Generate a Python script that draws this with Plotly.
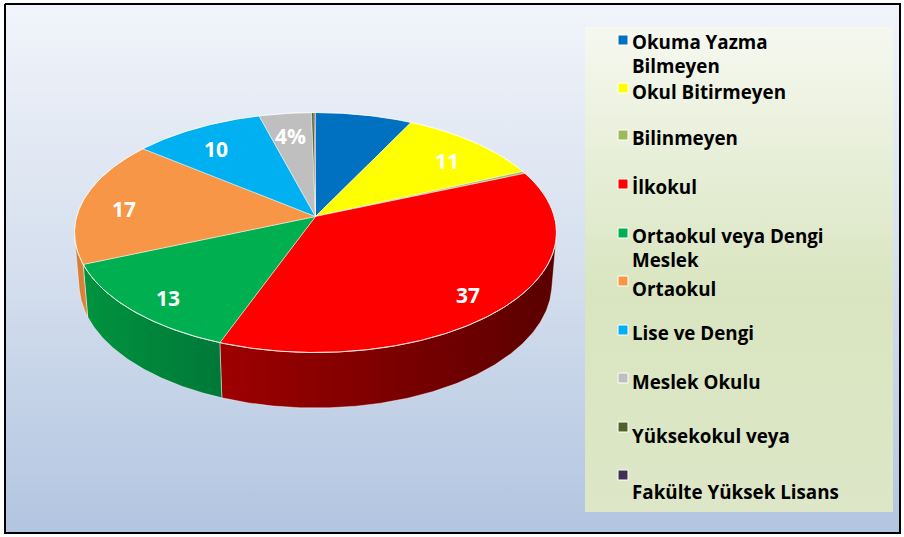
import math
import plotly.graph_objects as go

# Education level distribution (percent); legend names may wrap onto two lines
categories = [
    ["Okuma Yazma", "Bilmeyen"],
    ["Okul Bitirmeyen"],
    ["Bilinmeyen"],
    ["İlkokul"],
    ["Ortaokul veya Dengi", "Meslek"],
    ["Ortaokul"],
    ["Lise ve Dengi"],
    ["Meslek Okulu"],
    ["Yüksekokul veya"],
    ["", "Fakülte Yüksek Lisans"],
]
values = [7.4, 11, 0.3, 37, 13, 17, 10, 4, 0.2, 0.1]
# suffix for the value label of each slice (None = no label drawn)
label_suffix = [None, "", None, "", "", "", "", "%", None, None]

top_colors = ["#0070c0", "#ffff00", "#9bbb59", "#ff0000", "#00b050",
              "#f79646", "#00b0f0", "#bfbfbf", "#4f6228", "#403152"]
# side wall shading (left -> right)
side_colors = [
    ("#005a9a", "#003f70"), ("#cccc00", "#999900"), ("#7c9647", "#5d7035"),
    ("#9e0000", "#5a0000"), ("#00933f", "#007838"), ("#d2782f", "#dd8a40"),
    ("#008dc0", "#006a90"), ("#999999", "#777777"), ("#3f4e20", "#2f3b18"),
    ("#332741", "#261d31"),
]

W, H = 904, 537
FONT = "Open Sans"

# perspective camera for the tilted pie
CX, CY = 315.5, 216.5
TILT = math.radians(29.57)
DIST = 6.523
FOCAL = 1558.0
THICK = 0.249
S, C = math.sin(TILT), math.cos(TILT)


def project(theta_deg, y3=0.0, r=1.0):
    t = math.radians(theta_deg)
    X, Z = r * math.sin(t), r * math.cos(t)
    depth = DIST - y3 * S + Z * C
    sx = X * FOCAL / depth
    sy = (y3 * C + Z * S) * FOCAL / depth
    return CX + sx, CY - sy


def arc(a0, a1, y3=0.0, step=0.5):
    n = max(2, int(abs(a1 - a0) / step) + 1)
    pts = [project(a0 + (a1 - a0) * i / (n - 1), y3) for i in range(n)]
    return [p[0] for p in pts], [p[1] for p in pts]


fig = go.Figure()

# chart area background with frame (light at top, blue at bottom)
fig.add_trace(go.Scatter(
    x=[5, 900, 900, 5, 5], y=[4, 4, 533, 533, 4], mode="lines", fill="toself",
    fillgradient=dict(type="vertical", colorscale=[[0, "#b2c5e0"], [0.5, "#d5dfee"], [1, "#f1f4fa"]]),
    line=dict(color="black", width=2), hoverinfo="skip", showlegend=False))

# legend panel
fig.add_trace(go.Scatter(
    x=[585, 893, 893, 585, 585], y=[27, 27, 512, 512, 27], mode="lines", fill="toself",
    fillgradient=dict(type="vertical", colorscale=[[0, "#dde7c8"], [0.45, "#d9e5c0"], [1, "#f6f8f0"]]),
    line=dict(color="rgba(0,0,0,0)", width=0), hoverinfo="skip", showlegend=False))

# slice angles (clockwise from 12 o'clock)
total = sum(values)
bounds = [0.0]
for v in values:
    bounds.append(bounds[-1] + v / total * 360.0)

# visible part of the cylinder wall
vis = math.degrees(math.acos(-1.0 / (DIST * C)))
vis_lo, vis_hi = vis, 360.0 - vis

for i in range(len(values)):
    lo, hi = max(bounds[i], vis_lo), min(bounds[i + 1], vis_hi)
    if hi <= lo:
        continue
    tx, ty = arc(lo, hi, 0.0)
    bx, by = arc(hi, lo, -THICK)
    fig.add_trace(go.Scatter(
        x=tx + bx + [tx[0]], y=ty + by + [ty[0]], mode="lines", fill="toself",
        fillgradient=dict(type="horizontal",
                          colorscale=[[0, side_colors[i][0]], [1, side_colors[i][1]]]),
        line=dict(color="rgba(255,255,255,0.55)", width=0.8),
        hoverinfo="skip", showlegend=False))

# top face slices
for i in range(len(values)):
    ax, ay = arc(bounds[i], bounds[i + 1], 0.0)
    fig.add_trace(go.Scatter(
        x=[CX] + ax + [CX], y=[CY] + ay + [CY], mode="lines", fill="toself",
        fillcolor=top_colors[i], line=dict(color="rgba(255,255,255,0.6)", width=0.8),
        name=" ".join(categories[i]).strip(), hoverinfo="name", showlegend=False))

# rim highlight
rx, ry = arc(0, 360, 0.0)
fig.add_trace(go.Scatter(x=rx, y=ry, mode="lines",
                         line=dict(color="rgba(255,255,255,0.7)", width=1),
                         hoverinfo="skip", showlegend=False))

annotations = []
# value labels
for i, v in enumerate(values):
    if label_suffix[i] is None:
        continue
    mid = (bounds[i] + bounds[i + 1]) / 2
    lx, ly = project(mid, 0.0, 0.82)
    annotations.append(dict(
        x=lx, y=ly + 6, xref="x", yref="y", text=f"<b>{v:g}{label_suffix[i]}</b>",
        showarrow=False, font=dict(family=FONT, size=21, color="white"),
        xanchor="center", yanchor="middle"))

# legend entries: marker centre and the y of each text line
legend_marker_y = [40, 88, 135, 184, 233, 281, 330, 378, 427, 475]
legend_line_y = [[42, 65.5], [92], [138], [187], [236, 260], [289], [333], [382], [436], [468, 492]]
LINE_FONT = 18.8
shapes = []
for i, lines in enumerate(categories):
    my = legend_marker_y[i]
    shapes.append(dict(type="rect", xref="x", yref="y", x0=618, x1=628, y0=my - 5, y1=my + 5,
                       fillcolor=top_colors[i], line=dict(color="white", width=1)))
    for text, ty in zip(lines, legend_line_y[i]):
        if not text:
            continue
        annotations.append(dict(
            x=630, y=ty, xref="x", yref="y", text=f"<b>{text}</b>",
            showarrow=False, align="left", xanchor="left", yanchor="middle",
            font=dict(family=FONT, size=LINE_FONT, color="black")))

fig.update_layout(
    width=W, height=H, margin=dict(l=0, r=0, t=0, b=0),
    paper_bgcolor="white", plot_bgcolor="white",
    xaxis=dict(range=[0, W], visible=False, fixedrange=True),
    yaxis=dict(range=[H, 0], visible=False, fixedrange=True),
    shapes=shapes, annotations=annotations, showlegend=False,
)

fig.write_html("out.html")
